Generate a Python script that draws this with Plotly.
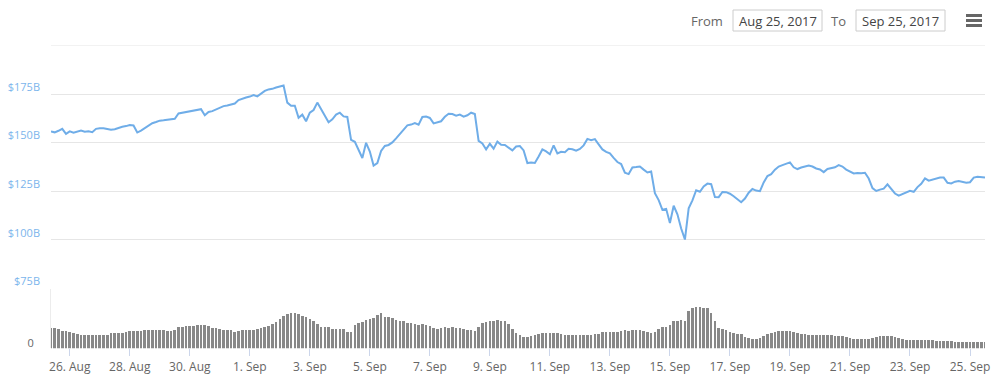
import pandas as pd
import plotly.graph_objects as go

# ---- data (3-hourly, from 25 Aug 2017 09:00 to 25 Sep 2017 12:00) ----
start_time = "2017-08-25 09:00"
n_points = 250

market_cap_b = [
    155.8, 155.3, 156.1, 157.1, 154.5, 155.8, 155.1, 155.6, 156.2, 155.6,
    155.8, 155.4, 157.1, 157.4, 157.4, 157.0, 156.6, 156.9, 157.6, 158.2,
    158.5, 159.1, 158.8, 155.2, 156.2, 157.5, 158.9, 160.0, 160.6, 161.3,
    161.5, 161.8, 162.0, 162.3, 165.0, 165.4, 165.7, 165.9, 166.3, 166.9,
    167.2, 164.1, 165.8, 166.2, 167.2, 167.9, 168.8, 169.1, 169.5, 170.1,
    171.9, 172.7, 173.2, 173.7, 174.5, 173.8, 175.3, 176.6, 177.4, 177.7,
    178.4, 179.1, 179.4, 170.6, 169.0, 169.0, 162.8, 164.4, 161.0, 165.4,
    166.8, 170.6, 167.2, 164.1, 160.5, 162.0, 164.4, 165.4, 163.5, 163.2,
    151.4, 150.4, 146.0, 142.1, 149.9, 145.4, 138.2, 139.5, 145.7, 148.3,
    148.8, 150.1, 152.2, 154.5, 157.1, 158.9, 159.3, 160.1, 159.2, 163.2,
    163.4, 162.7, 159.9, 160.3, 161.0, 163.3, 164.9, 164.7, 163.9, 164.4,
    163.4, 164.1, 165.4, 164.7, 150.9, 149.6, 146.5, 149.4, 146.9, 150.5,
    148.9, 148.8, 147.3, 146.0, 148.0, 148.2, 146.0, 139.5, 139.8, 139.5,
    142.9, 146.5, 145.5, 144.0, 148.6, 144.4, 145.3, 145.1, 146.8, 146.6,
    145.8, 146.7, 148.6, 151.9, 151.2, 151.8, 149.1, 146.5, 145.2, 144.5,
    142.1, 140.0, 139.0, 134.5, 133.8, 137.2, 137.4, 137.7, 136.1, 134.6,
    135.1, 124.0, 120.4, 115.4, 115.9, 108.6, 117.5, 113.1, 105.8, 100.1,
    116.2, 120.3, 125.5, 124.7, 127.4, 128.9, 128.6, 122.0, 121.9, 124.6,
    124.5, 123.7, 122.4, 120.6, 119.3, 121.2, 124.2, 126.1, 125.3, 125.0,
    129.5, 132.8, 133.8, 136.1, 137.7, 138.4, 139.0, 139.8, 137.3, 136.4,
    137.2, 137.8, 138.2, 137.7, 136.7, 136.2, 134.8, 136.4, 136.8, 137.3,
    138.4, 137.7, 136.1, 135.0, 134.1, 134.4, 134.2, 134.5, 131.5, 126.6,
    125.1, 125.8, 126.3, 128.5, 126.0, 123.8, 122.7, 123.6, 124.5, 125.2,
    124.7, 127.1, 128.8, 131.6, 130.4, 131.0, 131.3, 132.0, 132.0, 129.3,
    129.0, 129.9, 130.2, 129.8, 129.4, 129.6, 132.0, 132.4, 132.3, 132.0,
]

volume_b = [
    2.06, 2.06, 2.00, 1.80, 1.77, 1.65, 1.55, 1.50, 1.35, 1.33,
    1.33, 1.35, 1.33, 1.35, 1.33, 1.40, 1.55, 1.57, 1.57, 1.60,
    1.65, 1.77, 1.77, 1.75, 1.77, 1.90, 1.93, 1.85, 1.92, 1.90,
    1.88, 1.77, 1.75, 1.90, 2.17, 2.15, 2.25, 2.33, 2.33, 2.35,
    2.43, 2.43, 2.30, 2.07, 2.07, 2.02, 1.93, 1.93, 1.85, 1.67,
    1.75, 1.90, 1.90, 1.90, 1.92, 2.00, 2.07, 2.15, 2.30, 2.50,
    2.70, 3.00, 3.25, 3.45, 3.57, 3.55, 3.45, 3.33, 3.20, 3.00,
    2.80, 2.50, 2.23, 2.20, 2.15, 2.03, 2.00, 1.97, 1.95, 1.70,
    1.67, 2.40, 2.55, 2.65, 2.85, 3.00, 3.05, 3.40, 3.57, 3.20,
    3.15, 3.05, 2.90, 2.80, 2.77, 2.60, 2.55, 2.48, 2.43, 2.45,
    2.38, 2.25, 2.10, 2.00, 2.05, 2.15, 2.10, 2.15, 2.10, 2.07,
    1.95, 1.83, 1.83, 1.75, 2.20, 2.57, 2.70, 2.80, 2.83, 2.87,
    2.83, 2.83, 2.50, 1.95, 1.60, 1.35, 1.20, 1.17, 1.25, 1.40,
    1.48, 1.55, 1.57, 1.60, 1.60, 1.55, 1.48, 1.42, 1.40, 1.40,
    1.37, 1.40, 1.40, 1.40, 1.38, 1.43, 1.50, 1.65, 1.67, 1.67,
    1.70, 1.68, 1.80, 1.83, 1.75, 1.83, 1.88, 1.83, 1.78, 1.65,
    1.60, 1.63, 2.00, 2.17, 2.20, 2.35, 2.83, 2.83, 2.85, 2.80,
    3.80, 4.05, 4.17, 4.17, 4.10, 4.10, 3.60, 2.80, 2.10, 1.95,
    1.85, 1.70, 1.60, 1.50, 1.43, 1.20, 1.05, 1.00, 1.00, 1.05,
    1.25, 1.43, 1.55, 1.65, 1.75, 1.77, 1.82, 1.77, 1.65, 1.53,
    1.50, 1.45, 1.35, 1.35, 1.33, 1.35, 1.33, 1.33, 1.35, 1.30,
    1.32, 1.25, 1.20, 1.05, 1.00, 1.00, 0.95, 1.00, 1.00, 1.05,
    1.20, 1.23, 1.23, 1.23, 1.25, 1.20, 1.05, 0.95, 0.90, 0.90,
    0.90, 0.92, 0.88, 0.90, 0.85, 0.85, 0.78, 0.77, 0.77, 0.75,
    0.77, 0.72, 0.67, 0.68, 0.65, 0.67, 0.70, 0.70, 0.70, 0.68,
]

price_tick_vals = [75, 100, 125, 150, 175]
price_tick_text = ["$75B", "$100B", "$125B", "$150B", "$175B"]
price_top = 200

times = pd.date_range(start_time, periods=n_points, freq="3h")

FONT = "Open Sans, DejaVu Sans, sans-serif"
W, H, L, R = 1000, 376, 51, 15
PW = W - L - R

fig = go.Figure()

fig.add_trace(go.Bar(
    x=times, y=volume_b, xaxis="x", yaxis="y2",
    marker=dict(color="#888888", line=dict(width=0)),
    width=3 * 3600 * 1000 * 0.7,
    hoverinfo="skip", showlegend=False,
))

fig.add_trace(go.Scatter(
    x=times, y=market_cap_b, xaxis="x", yaxis="y",
    mode="lines", line=dict(color="#6fade8", width=2),
    showlegend=False,
))

fig.update_layout(
    width=W, height=H,
    margin=dict(l=L, r=R, t=0, b=0, autoexpand=False),
    paper_bgcolor="white", plot_bgcolor="white",
    font=dict(family=FONT, size=11, color="#666666"),
    bargap=0,
    xaxis=dict(
        type="date", anchor="y2",
        range=["2017-08-25 09:00", "2017-09-25 12:00"],
        tick0="2017-08-26", dtick=2 * 86400000,
        tickformat="%-d. %b",
        ticks="outside", ticklen=7, tickcolor="#ccd6eb", tickwidth=1,
        showgrid=False, zeroline=False, showline=False,
        tickfont=dict(size=12, color="#666666", family=FONT),
    ),
    yaxis=dict(
        domain=[1 - 288.3 / H, 1 - 45.5 / H],
        range=[75, price_top],
        tickvals=price_tick_vals, ticktext=price_tick_text,
        showgrid=True, gridcolor="#e6e6e6", gridwidth=1,
        zeroline=False, showline=False, ticks="",
        tickfont=dict(size=11, color="#7cb5ec", family=FONT),
        ticklabelshift=-7, ticklabelstandoff=10,
    ),
    yaxis2=dict(
        domain=[1 - 348.3 / H, 1 - 288.6 / H],
        range=[0, 6],
        tickvals=[0], ticktext=["0"],
        showgrid=False, zeroline=False,
        showline=True, linecolor="#ececec", linewidth=1,
        ticks="",
        tickfont=dict(size=11, color="#666666", family=FONT),
        ticklabelshift=-5, ticklabelstandoff=14,
    ),
)

# ---- top gridline, range-input toolbar (From / To boxes, menu icon) ----
shapes = [
    dict(type="line", xref="paper", yref="y", x0=0, x1=1,
         y0=price_top, y1=price_top, line=dict(color="#e6e6e6", width=1)),
    dict(type="rect", xref="paper", yref="paper",
         x0=(733 - L) / PW, x1=(822 - L) / PW,
         y0=1 - 31 / H, y1=1 - 10 / H,
         line=dict(color="#cccccc", width=1), fillcolor="white"),
    dict(type="rect", xref="paper", yref="paper",
         x0=(856 - L) / PW, x1=(945 - L) / PW,
         y0=1 - 31 / H, y1=1 - 10 / H,
         line=dict(color="#cccccc", width=1), fillcolor="white"),
]
for yy in (15.5, 20.5, 25.5):
    shapes.append(dict(type="line", xref="paper", yref="paper",
                       x0=(966 - L) / PW, x1=(982 - L) / PW,
                       y0=1 - yy / H, y1=1 - yy / H,
                       line=dict(color="#666666", width=3)))
fig.update_layout(shapes=shapes)

annotations = [
    dict(text="From", x=(725 - L) / PW, y=1 - 20.5 / H, xanchor="right",
         yanchor="middle", showarrow=False, xref="paper", yref="paper",
         font=dict(size=13, color="#666666", family=FONT)),
    dict(text="Aug 25, 2017", x=(777.5 - L) / PW, y=1 - 20.5 / H,
         xanchor="center", yanchor="middle", showarrow=False,
         xref="paper", yref="paper",
         font=dict(size=13, color="#444444", family=FONT)),
    dict(text="To", x=(848 - L) / PW, y=1 - 20.5 / H, xanchor="right",
         yanchor="middle", showarrow=False, xref="paper", yref="paper",
         font=dict(size=13, color="#666666", family=FONT)),
    dict(text="Sep 25, 2017", x=(900.5 - L) / PW, y=1 - 20.5 / H,
         xanchor="center", yanchor="middle", showarrow=False,
         xref="paper", yref="paper",
         font=dict(size=13, color="#444444", family=FONT)),
]
fig.update_layout(annotations=annotations)

fig.write_html(
    "out.html",
    config={"displayModeBar": False},
    post_script="document.body.style.margin='0px';document.body.style.overflow='hidden';",
)
